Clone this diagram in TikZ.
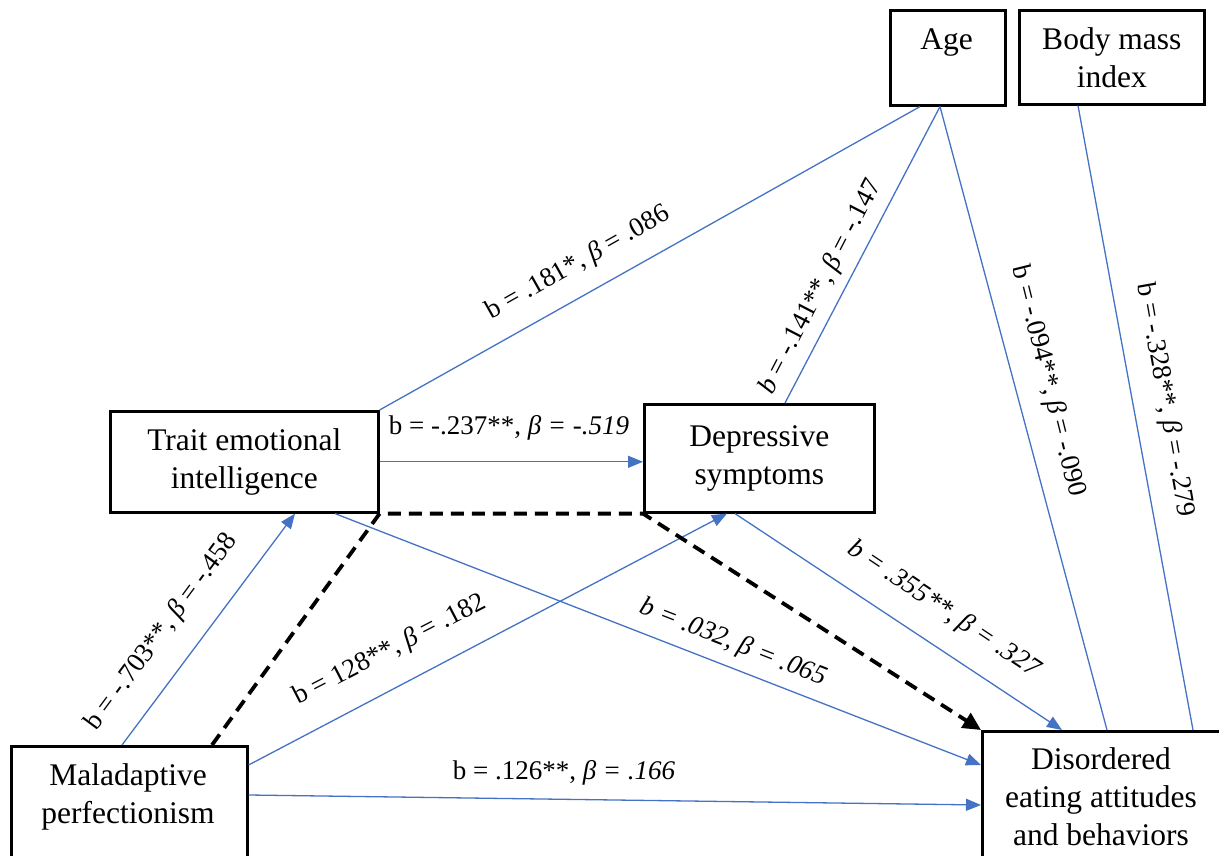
\documentclass[tikz,border=0pt]{standalone}
\usepackage{fontspec}
\setmainfont{Liberation Serif}
\newfontfamily\timesx{Liberation Serif}
\usetikzlibrary{arrows.meta,calc}
\definecolor{pathblue}{HTML}{4472C4}
\tikzset{
 box/.style={draw=black, line width=2.6pt, inner sep=0pt},
 nodetext/.style={font=\timesx\fontsize{31.5}{38}\selectfont, align=center, inner sep=0pt},
 lbl/.style={font=\timesx\fontsize{27}{32}\selectfont, inner sep=0pt},
 bpath/.style={draw=pathblue, line width=1.3pt},
 arr/.style={bpath, -{Triangle[length=15pt,width=12pt]}},
 mediated/.style={draw=black, line width=3.8pt, dash pattern=on 13pt off 8pt, -{Triangle[length=18pt,width=17pt]}},
}
\begin{document}
\begin{tikzpicture}[x=1pt,y=-1pt]
\useasboundingbox (0,0) rectangle (1219,856);
% boxes
\node[box, minimum width=115pt, minimum height=95pt, anchor=north west] (age) at (889,9) {};
\node[nodetext] (agetxt) at (946.5,43) {Age};
\node[box, nodetext, minimum width=185pt, minimum height=94pt, anchor=north west] (bmi) at (1018,9) {Body mass\\index};
\node[box, nodetext, minimum width=268pt, minimum height=101pt, anchor=north west] (tei) at (109,410) {Trait emotional\\intelligence};
\node[box, nodetext, minimum width=230pt, minimum height=108pt, anchor=north west] (dep) at (643,403) {Depressive\\symptoms};
\node[box, minimum width=236pt, minimum height=160pt, anchor=north west] (mal) at (10,745) {};
\node[nodetext] (maltxt) at (128,797) {Maladaptive\\perfectionism};
\node[box, minimum width=240pt, minimum height=170pt, anchor=north west] (dis) at (981,730) {};
\node[nodetext] (distxt) at (1101,797) {Disordered\\eating attitudes\\and behaviors};
% connectors
\draw[bpath] (tei.north east) -- ([xshift=31pt]age.south west);
\draw[bpath] ([xshift=142pt]dep.north west) -- ([xshift=51pt]age.south west);
\draw[bpath] ([xshift=51pt]age.south west) -- ([xshift=126pt]dis.north west);
\draw[bpath] ([xshift=60pt]bmi.south west) -- ([xshift=212pt]dis.north west);
\draw[arr] (tei.east) -- (tei.east -| dep.west);
\draw[arr] ([xshift=92pt]dep.south west) -- ([xshift=81pt]dis.north west);
\draw[arr] ([xshift=226pt]tei.south west) -- ([yshift=-35pt]dis.north west);
\draw[arr] ([yshift=-50pt]mal.north east) -- ([yshift=-75pt]dis.north west);
\draw[arr] ([yshift=-20pt]mal.north east) -- ([xshift=84pt]dep.south west);
\draw[arr] ([xshift=112pt]mal.north west) -- ([xshift=186pt]tei.south west);
\draw[mediated] ([xshift=202pt]mal.north west) -- (tei.south east) -- (dep.south west) -- (dis.north west);
% labels
\node[lbl, rotate=29.4] (l1) at (578,263) {b = .181*, \textit{β} = .086};
\node[lbl] (l2) at (509,428) {b = -.237**, \textit{β = -.519}};
\node[lbl, rotate=62.6] (l3) at (821,287) {\textit{b} = -.141**, \textit{β} = -.147};
\node[lbl, rotate=-76] (l4) at (1048,381) {b = -.094**, \textit{β} = -.090};
\node[lbl, rotate=-80] (l5) at (1165,400) {b = -.328**, \textit{β} = -.279};
\node[lbl, rotate=53.5] (l6) at (162,632) {b = -.703**, \textit{β} = -.458};
\node[lbl, rotate=27.4] (l7) at (390,650) {b = 128**, \textit{β} = .182};
\node[lbl, rotate=-21.4] (l8) at (733,643) {\textit{b = .032, β = .065}};
\node[lbl, rotate=-33.8] (l9) at (944,610) {\textit{b = .355**, β = .327}};
\node[lbl] (l10) at (564,773) {b = .126**, \textit{β = .166}};
\end{tikzpicture}
\end{document}
